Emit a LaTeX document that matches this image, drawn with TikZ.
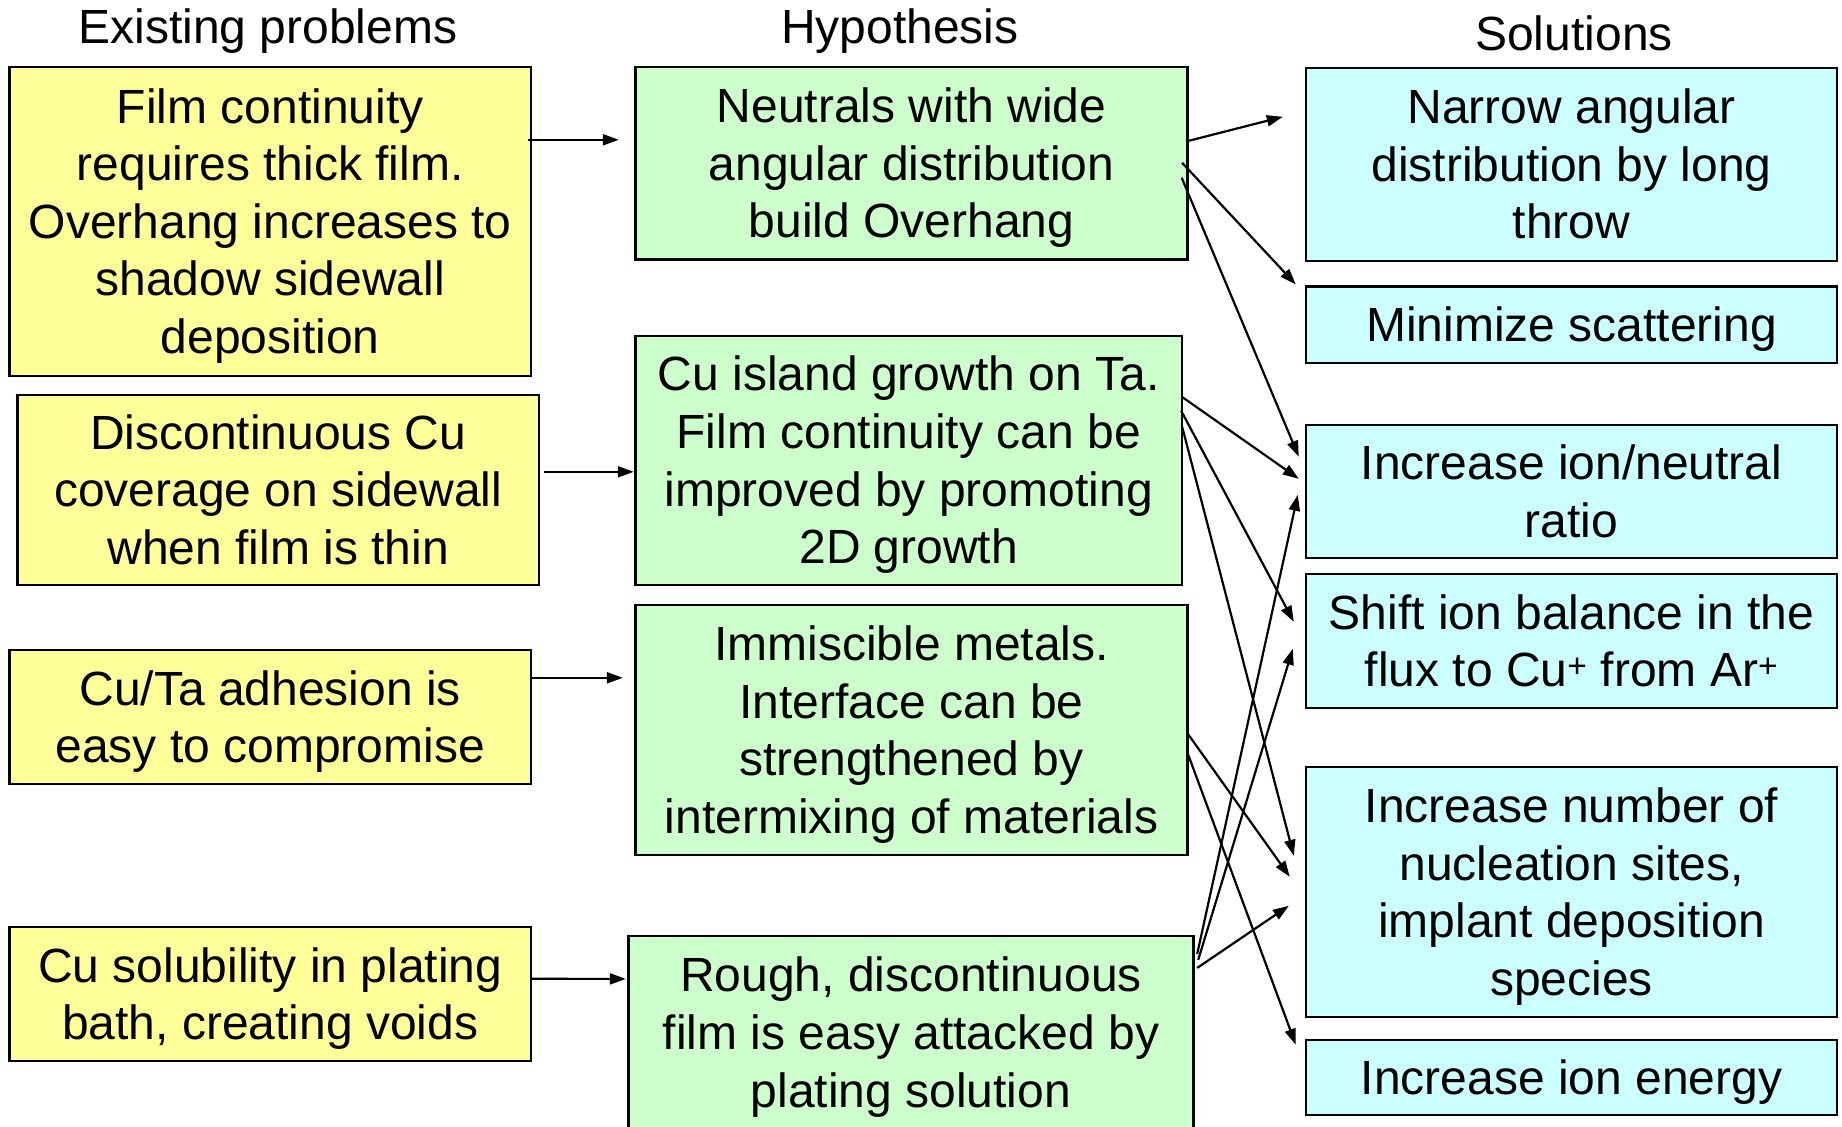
\documentclass[tikz,border=0pt]{standalone}
\usepackage{fontspec}
\setmainfont{Liberation Sans}
\usetikzlibrary{arrows.meta,calc}
\definecolor{yel}{HTML}{FFFF99}
\definecolor{grn}{HTML}{CCFFCC}
\definecolor{cyn}{HTML}{CCFFFF}
\newcommand{\bxt}[1]{\raisebox{-5.3pt}[\height][\depth]{\begin{tabular}{@{}c@{}}#1\end{tabular}}}
\begin{document}
\begin{tikzpicture}[x=1pt,y=-1pt,
  box/.style={draw=black, line width=2.4pt, inner sep=0pt,
    font=\fontsize{48}{57.6}\selectfont},
  ybox/.style={box, fill=yel},
  gbox/.style={box, fill=grn},
  cbox/.style={box, fill=cyn, minimum width=531pt},
  hdr/.style={inner sep=0pt, font=\fontsize{48}{57.6}\selectfont},
  conn/.style={line width=2.2pt, -{Triangle[length=16pt,width=11pt]}}]
\useasboundingbox (0,0) rectangle (1842,1127);

% headers
\node[hdr] (h1) at (267.8,31) {Existing problems};
\node[hdr] (h2) at (899.8,31) {Hypothesis};
\node[hdr] (h3) at (1574,33.4) {Solutions};

% problems
\node[ybox, minimum width=521.6pt, minimum height=309pt] (Y1) at (270.2,221.5)
  {\bxt{Film continuity\\requires thick film.\\Overhang increases to\\shadow sidewall\\deposition}};
\node[ybox, minimum width=521.4pt, minimum height=190pt] (Y2) at (278.3,490)
  {\bxt{Discontinuous Cu\\coverage on sidewall\\when film is thin}};
\node[ybox, minimum width=521.6pt, minimum height=134pt] (Y3) at (270.2,717)
  {\bxt{Cu/Ta adhesion is\\easy to compromise}};
\node[ybox, minimum width=521.6pt, minimum height=134pt] (Y4) at (270.2,994)
  {\bxt{Cu solubility in plating\\bath, creating voids}};

% hypotheses
\node[gbox, minimum width=552pt, minimum height=192.6pt] (G1) at (911.5,163.3)
  {\bxt{Neutrals with wide\\angular distribution\\build Overhang}};
\node[gbox, minimum width=546.5pt, minimum height=249pt] (G2) at (908.7,460.5)
  {\bxt{Cu island growth on Ta.\\Film continuity can be\\improved by promoting\\2D growth}};
\node[gbox, minimum width=552pt, minimum height=250pt] (G3) at (911.5,730)
  {\bxt{Immiscible metals.\\Interface can be\\strengthened by\\intermixing of materials}};
\node[gbox, minimum width=565pt, minimum height=193pt] (G4) at (911,1032.6)
  {\bxt{Rough, discontinuous\\film is easy attacked by\\plating solution}};

% solutions
\node[cbox, minimum height=193pt] (C1) at (1571.5,164.5)
  {\bxt{Narrow angular\\distribution by long\\throw}};
\node[cbox, minimum height=76.4pt] (C2) at (1571.5,324.8)
  {\bxt{Minimize scattering}};
\node[cbox, minimum height=133pt] (C3) at (1571.5,491.5)
  {\bxt{Increase ion/neutral\\ratio}};
\node[cbox, minimum height=134pt] (C4) at (1571.5,641)
  {\bxt{Shift ion balance in the\\flux to Cu\textsuperscript{+} from Ar\textsuperscript{+}}};
\node[cbox, minimum height=250pt] (C5) at (1571.5,892)
  {\bxt{Increase number of\\nucleation sites,\\implant deposition\\species}};
\node[cbox, minimum height=75pt] (C6) at (1571.5,1077.5)
  {\bxt{Increase ion energy}};

% problems -> hypotheses
\draw[conn] ($(Y1.north east)+(-4,74)$) -- ($(G1.north west)+(-15.5,74)$);
\draw[conn] ($(Y2.north east)+(4,78)$) -- ($(G2.north west)+(-0.5,137)$);
\draw[conn] ($(Y3.north east)+(0,29)$) -- ($(G3.north west)+(-11.5,74)$);
\draw[conn] ($(Y4.north east)+(0,53)$) -- ($(G4.north west)+(-1.5,44)$);

% hypotheses -> solutions
\draw[conn] ($(G1.north east)+(0,75)$) -- ($(C1.north west)+(-22,50)$);
\draw[conn] ($(G1.north east)+(-6.6,97)$) -- ($(C2.north west)+(-9,-1)$);
\draw[conn] ($(G1.north east)+(-7,112)$) -- ($(C3.north west)+(-6,33)$);
\draw[conn] ($(G2.north east)+(-1.3,62)$) -- ($(C3.north west)+(-6,55)$);
\draw[conn] ($(G2.north east)+(-2,76)$) -- ($(C4.north west)+(-11,49)$);
\draw[conn] ($(G2.north east)+(-1,92)$) -- ($(C5.north west)+(-11,90)$);
\draw[conn] ($(G3.north east)+(-1.6,129)$) -- ($(C5.north west)+(-15,111)$);
\draw[conn] ($(G3.north east)+(-1.6,148)$) -- ($(C6.north west)+(-9,6)$);
\draw[conn] ($(G4.north east)+(2.5,19)$) -- ($(C3.north west)+(-7,71)$);
\draw[conn] ($(G4.north east)+(3.5,25)$) -- ($(C4.north west)+(-12,76)$);
\draw[conn] ($(G4.north east)+(2.5,33)$) -- ($(C5.north west)+(-16,140)$);
\end{tikzpicture}
\end{document}
